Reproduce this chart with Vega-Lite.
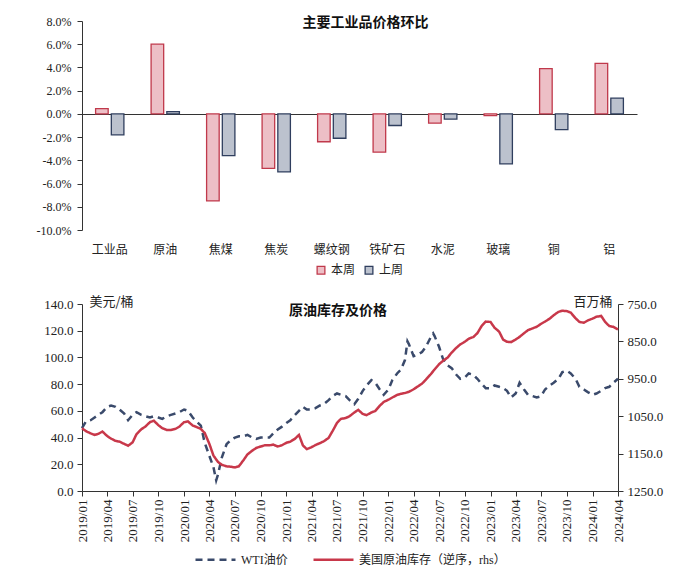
{
  "$schema": "https://vega.github.io/schema/vega-lite/v6.json",
  "background": "white",
  "padding": {"left": 30, "top": 15, "right": 5, "bottom": 5},
  "spacing": 18,
  "config": {
    "view": {"stroke": null},
    "axis": {"grid": false, "domainColor": "#333333", "tickColor": "#333333", "labelColor": "#222222", "titleColor": "#222222", "labelFont": "Liberation Serif, Noto Sans CJK SC", "titleFont": "Noto Sans CJK SC", "labelFontSize": 12},
    "legend": {"labelFont": "Liberation Serif, Noto Sans CJK SC", "labelFontSize": 12, "labelColor": "#222222", "layout": {"bottom": {"anchor": "middle"}}},
    "title": {"font": "Noto Sans CJK SC", "fontSize": 14, "fontWeight": "bold", "color": "#111111"}
  },
  "datasets": {
    "bars": [
      {"item": "工业品", "series": "本周", "value": 0.0045},
      {"item": "工业品", "series": "上周", "value": -0.018},
      {"item": "原油", "series": "本周", "value": 0.06},
      {"item": "原油", "series": "上周", "value": 0.002},
      {"item": "焦煤", "series": "本周", "value": -0.075},
      {"item": "焦煤", "series": "上周", "value": -0.036},
      {"item": "焦炭", "series": "本周", "value": -0.047},
      {"item": "焦炭", "series": "上周", "value": -0.05},
      {"item": "螺纹钢", "series": "本周", "value": -0.024},
      {"item": "螺纹钢", "series": "上周", "value": -0.021},
      {"item": "铁矿石", "series": "本周", "value": -0.033},
      {"item": "铁矿石", "series": "上周", "value": -0.01},
      {"item": "水泥", "series": "本周", "value": -0.008},
      {"item": "水泥", "series": "上周", "value": -0.0045},
      {"item": "玻璃", "series": "本周", "value": -0.0015},
      {"item": "玻璃", "series": "上周", "value": -0.043},
      {"item": "铜", "series": "本周", "value": 0.039},
      {"item": "铜", "series": "上周", "value": -0.0135},
      {"item": "铝", "series": "本周", "value": 0.0435},
      {"item": "铝", "series": "上周", "value": 0.0135}
    ],
    "wti": [
      {"date": "2019-01-01", "v": 47}, {"date": "2019-01-15", "v": 52}, {"date": "2019-02-01", "v": 53}, {"date": "2019-02-15", "v": 55},
      {"date": "2019-03-01", "v": 57}, {"date": "2019-03-15", "v": 59}, {"date": "2019-04-01", "v": 63}, {"date": "2019-04-15", "v": 64},
      {"date": "2019-05-01", "v": 63}, {"date": "2019-05-15", "v": 61}, {"date": "2019-06-01", "v": 58}, {"date": "2019-06-15", "v": 53},
      {"date": "2019-07-01", "v": 57}, {"date": "2019-07-15", "v": 59}, {"date": "2019-08-01", "v": 57}, {"date": "2019-08-15", "v": 56},
      {"date": "2019-09-01", "v": 55}, {"date": "2019-09-15", "v": 56}, {"date": "2019-10-01", "v": 55}, {"date": "2019-10-15", "v": 54},
      {"date": "2019-11-01", "v": 56}, {"date": "2019-11-15", "v": 57}, {"date": "2019-12-01", "v": 58}, {"date": "2019-12-15", "v": 59},
      {"date": "2020-01-01", "v": 61}, {"date": "2020-01-15", "v": 60}, {"date": "2020-02-01", "v": 55}, {"date": "2020-02-15", "v": 52},
      {"date": "2020-03-01", "v": 49}, {"date": "2020-03-15", "v": 36}, {"date": "2020-04-01", "v": 26}, {"date": "2020-04-15", "v": 18},
      {"date": "2020-04-25", "v": 8}, {"date": "2020-05-01", "v": 12}, {"date": "2020-05-15", "v": 25}, {"date": "2020-06-01", "v": 35},
      {"date": "2020-06-15", "v": 38}, {"date": "2020-07-01", "v": 40}, {"date": "2020-07-15", "v": 41}, {"date": "2020-08-01", "v": 41},
      {"date": "2020-08-15", "v": 42}, {"date": "2020-09-01", "v": 40}, {"date": "2020-09-15", "v": 39}, {"date": "2020-10-01", "v": 40},
      {"date": "2020-10-15", "v": 40}, {"date": "2020-11-01", "v": 40}, {"date": "2020-11-15", "v": 43}, {"date": "2020-12-01", "v": 46},
      {"date": "2020-12-15", "v": 48}, {"date": "2021-01-01", "v": 51}, {"date": "2021-01-15", "v": 53}, {"date": "2021-02-01", "v": 57},
      {"date": "2021-02-15", "v": 60}, {"date": "2021-03-01", "v": 63}, {"date": "2021-03-15", "v": 61}, {"date": "2021-04-01", "v": 61},
      {"date": "2021-04-15", "v": 62}, {"date": "2021-05-01", "v": 64}, {"date": "2021-05-15", "v": 65}, {"date": "2021-06-01", "v": 68},
      {"date": "2021-06-15", "v": 71}, {"date": "2021-07-01", "v": 73}, {"date": "2021-07-15", "v": 72}, {"date": "2021-08-01", "v": 71},
      {"date": "2021-08-15", "v": 68}, {"date": "2021-09-01", "v": 65}, {"date": "2021-09-15", "v": 69}, {"date": "2021-10-01", "v": 75},
      {"date": "2021-10-15", "v": 79}, {"date": "2021-11-01", "v": 83}, {"date": "2021-11-15", "v": 81}, {"date": "2021-12-01", "v": 76},
      {"date": "2021-12-15", "v": 72}, {"date": "2022-01-01", "v": 76}, {"date": "2022-01-15", "v": 83}, {"date": "2022-02-01", "v": 88},
      {"date": "2022-02-15", "v": 91}, {"date": "2022-03-01", "v": 98}, {"date": "2022-03-10", "v": 112}, {"date": "2022-03-15", "v": 110},
      {"date": "2022-04-01", "v": 101}, {"date": "2022-04-15", "v": 102}, {"date": "2022-05-01", "v": 104}, {"date": "2022-05-15", "v": 108},
      {"date": "2022-06-01", "v": 115}, {"date": "2022-06-10", "v": 118}, {"date": "2022-06-15", "v": 116}, {"date": "2022-07-01", "v": 108},
      {"date": "2022-07-15", "v": 99}, {"date": "2022-08-01", "v": 94}, {"date": "2022-08-15", "v": 92}, {"date": "2022-09-01", "v": 87},
      {"date": "2022-09-15", "v": 84}, {"date": "2022-10-01", "v": 85}, {"date": "2022-10-15", "v": 88}, {"date": "2022-11-01", "v": 87},
      {"date": "2022-11-15", "v": 84}, {"date": "2022-12-01", "v": 80}, {"date": "2022-12-15", "v": 77}, {"date": "2023-01-01", "v": 77},
      {"date": "2023-01-15", "v": 79}, {"date": "2023-02-01", "v": 78}, {"date": "2023-02-15", "v": 77}, {"date": "2023-03-01", "v": 75},
      {"date": "2023-03-15", "v": 70}, {"date": "2023-04-01", "v": 73}, {"date": "2023-04-15", "v": 81}, {"date": "2023-05-01", "v": 76},
      {"date": "2023-05-15", "v": 72}, {"date": "2023-06-01", "v": 71}, {"date": "2023-06-15", "v": 70}, {"date": "2023-07-01", "v": 71},
      {"date": "2023-07-15", "v": 76}, {"date": "2023-08-01", "v": 79}, {"date": "2023-08-15", "v": 81}, {"date": "2023-09-01", "v": 84},
      {"date": "2023-09-15", "v": 89}, {"date": "2023-10-01", "v": 90}, {"date": "2023-10-15", "v": 88}, {"date": "2023-11-01", "v": 84},
      {"date": "2023-11-15", "v": 78}, {"date": "2023-12-01", "v": 76}, {"date": "2023-12-15", "v": 74}, {"date": "2024-01-01", "v": 72},
      {"date": "2024-01-15", "v": 73}, {"date": "2024-02-01", "v": 75}, {"date": "2024-02-15", "v": 77}, {"date": "2024-03-01", "v": 78},
      {"date": "2024-03-15", "v": 81}, {"date": "2024-04-01", "v": 84}
    ],
    "inv": [
      {"date": "2019-01-01", "v": 1082}, {"date": "2019-01-15", "v": 1090}, {"date": "2019-02-01", "v": 1096}, {"date": "2019-02-15", "v": 1100},
      {"date": "2019-03-01", "v": 1097}, {"date": "2019-03-15", "v": 1091}, {"date": "2019-04-01", "v": 1103}, {"date": "2019-04-15", "v": 1110},
      {"date": "2019-05-01", "v": 1116}, {"date": "2019-05-15", "v": 1118}, {"date": "2019-06-01", "v": 1124}, {"date": "2019-06-15", "v": 1129},
      {"date": "2019-07-01", "v": 1120}, {"date": "2019-07-15", "v": 1098}, {"date": "2019-08-01", "v": 1085}, {"date": "2019-08-15", "v": 1078},
      {"date": "2019-09-01", "v": 1066}, {"date": "2019-09-15", "v": 1062}, {"date": "2019-10-01", "v": 1074}, {"date": "2019-10-15", "v": 1082},
      {"date": "2019-11-01", "v": 1087}, {"date": "2019-11-15", "v": 1087}, {"date": "2019-12-01", "v": 1084}, {"date": "2019-12-15", "v": 1078},
      {"date": "2020-01-01", "v": 1066}, {"date": "2020-01-15", "v": 1064}, {"date": "2020-02-01", "v": 1075}, {"date": "2020-02-15", "v": 1079},
      {"date": "2020-03-01", "v": 1084}, {"date": "2020-03-15", "v": 1095}, {"date": "2020-04-01", "v": 1125}, {"date": "2020-04-15", "v": 1155},
      {"date": "2020-05-01", "v": 1172}, {"date": "2020-05-15", "v": 1180}, {"date": "2020-06-01", "v": 1184}, {"date": "2020-06-15", "v": 1185},
      {"date": "2020-07-01", "v": 1187}, {"date": "2020-07-15", "v": 1184}, {"date": "2020-08-01", "v": 1167}, {"date": "2020-08-15", "v": 1152},
      {"date": "2020-09-01", "v": 1142}, {"date": "2020-09-15", "v": 1135}, {"date": "2020-10-01", "v": 1131}, {"date": "2020-10-15", "v": 1128},
      {"date": "2020-11-01", "v": 1128}, {"date": "2020-11-15", "v": 1126}, {"date": "2020-12-01", "v": 1131}, {"date": "2020-12-15", "v": 1128},
      {"date": "2021-01-01", "v": 1121}, {"date": "2021-01-15", "v": 1118}, {"date": "2021-02-01", "v": 1110}, {"date": "2021-02-15", "v": 1100},
      {"date": "2021-03-01", "v": 1128}, {"date": "2021-03-15", "v": 1138}, {"date": "2021-04-01", "v": 1133}, {"date": "2021-04-15", "v": 1127},
      {"date": "2021-05-01", "v": 1122}, {"date": "2021-05-15", "v": 1117}, {"date": "2021-06-01", "v": 1108}, {"date": "2021-06-15", "v": 1090},
      {"date": "2021-07-01", "v": 1068}, {"date": "2021-07-15", "v": 1057}, {"date": "2021-08-01", "v": 1055}, {"date": "2021-08-15", "v": 1050},
      {"date": "2021-09-01", "v": 1040}, {"date": "2021-09-15", "v": 1033}, {"date": "2021-10-01", "v": 1044}, {"date": "2021-10-15", "v": 1047},
      {"date": "2021-11-01", "v": 1040}, {"date": "2021-11-15", "v": 1036}, {"date": "2021-12-01", "v": 1022}, {"date": "2021-12-15", "v": 1012},
      {"date": "2022-01-01", "v": 1006}, {"date": "2022-01-15", "v": 1000}, {"date": "2022-02-01", "v": 993}, {"date": "2022-02-15", "v": 990},
      {"date": "2022-03-01", "v": 988}, {"date": "2022-03-15", "v": 985}, {"date": "2022-04-01", "v": 978}, {"date": "2022-04-15", "v": 971},
      {"date": "2022-05-01", "v": 963}, {"date": "2022-05-15", "v": 952}, {"date": "2022-06-01", "v": 938}, {"date": "2022-06-15", "v": 925},
      {"date": "2022-07-01", "v": 911}, {"date": "2022-07-15", "v": 902}, {"date": "2022-08-01", "v": 893}, {"date": "2022-08-15", "v": 880},
      {"date": "2022-09-01", "v": 867}, {"date": "2022-09-15", "v": 858}, {"date": "2022-10-01", "v": 851}, {"date": "2022-10-15", "v": 843},
      {"date": "2022-11-01", "v": 838}, {"date": "2022-11-15", "v": 828}, {"date": "2022-12-01", "v": 808}, {"date": "2022-12-15", "v": 797},
      {"date": "2023-01-01", "v": 798}, {"date": "2023-01-15", "v": 813}, {"date": "2023-02-01", "v": 824}, {"date": "2023-02-15", "v": 845},
      {"date": "2023-03-01", "v": 851}, {"date": "2023-03-15", "v": 852}, {"date": "2023-04-01", "v": 845}, {"date": "2023-04-15", "v": 838},
      {"date": "2023-05-01", "v": 828}, {"date": "2023-05-15", "v": 820}, {"date": "2023-06-01", "v": 815}, {"date": "2023-06-15", "v": 811},
      {"date": "2023-07-01", "v": 803}, {"date": "2023-07-15", "v": 797}, {"date": "2023-08-01", "v": 789}, {"date": "2023-08-15", "v": 780},
      {"date": "2023-09-01", "v": 771}, {"date": "2023-09-15", "v": 768}, {"date": "2023-10-01", "v": 769}, {"date": "2023-10-15", "v": 773},
      {"date": "2023-11-01", "v": 788}, {"date": "2023-11-15", "v": 798}, {"date": "2023-12-01", "v": 800}, {"date": "2023-12-15", "v": 794},
      {"date": "2024-01-01", "v": 789}, {"date": "2024-01-15", "v": 784}, {"date": "2024-02-01", "v": 782}, {"date": "2024-02-15", "v": 798},
      {"date": "2024-03-01", "v": 809}, {"date": "2024-03-15", "v": 811}, {"date": "2024-04-01", "v": 818}
    ]
  },
  "vconcat": [
    {
      "width": 555,
      "height": 209,
      "title": {"text": "主要工业品价格环比", "offset": -15, "dx": 6},
      "data": {"name": "bars"},
      "mark": {"type": "bar", "strokeWidth": 1.3},
      "encoding": {
        "x": {"field": "item", "type": "nominal", "sort": null, "title": null,
              "scale": {"paddingInner": 0.49, "paddingOuter": 0.245},
              "axis": {"labelAngle": 0, "domain": false, "ticks": false, "labelPadding": 14, "labelFontSize": 12}},
        "xOffset": {"field": "series", "sort": ["本周", "上周"], "scale": {"paddingInner": 0.2, "paddingOuter": 0}},
        "y": {"field": "value", "type": "quantitative", "title": null,
              "scale": {"domain": [-0.1, 0.08], "nice": false},
              "axis": {"values": [-0.1, -0.08, -0.06, -0.04, -0.02, 0, 0.02, 0.04, 0.06, 0.08],
                       "labelExpr": "replace(format(datum.value, '.1%'), '−', '-')", "labelOverlap": false,
                       "grid": true, "gridWidth": 1, "gridColor": {"condition": {"test": "abs(datum.value) < 0.0001", "value": "#333333"}, "value": "transparent"},
                       "tickSize": 5, "labelPadding": 6, "minExtent": 52, "maxExtent": 52}},
        "fill": {"field": "series", "type": "nominal",
                 "scale": {"domain": ["本周", "上周"], "range": ["#EDBFC6", "#BCC2CE"]},
                 "legend": {"orient": "bottom", "direction": "horizontal", "title": null, "symbolType": "square", "symbolSize": 60, "symbolStrokeWidth": 1.3, "offset": 9, "columnPadding": 6, "labelFontSize": 12}},
        "stroke": {"field": "series", "type": "nominal",
                   "scale": {"domain": ["本周", "上周"], "range": ["#C0394B", "#2F3E5E"]},
                   "legend": {"orient": "bottom", "direction": "horizontal", "title": null, "symbolType": "square", "symbolSize": 60, "symbolStrokeWidth": 1.3, "offset": 9, "columnPadding": 6, "labelFontSize": 12}}
      }
    },
    {
      "width": 536,
      "height": 187,
      "title": {"text": "原油库存及价格", "offset": -23, "dx": -12},
      "encoding": {
        "x": {"field": "date", "type": "temporal", "title": null,
              "scale": {"type": "utc", "domain": ["2019-01-01", "2024-04-01"]},
              "axis": {"labelExpr": "utcFormat(datum.value, '%Y/%m')", "tickCount": {"interval": "month", "step": 3}, "labelAngle": 270, "tickSize": 5, "labelPadding": 3, "labelFontSize": 13, "labelOverlap": false}}
      },
      "layer": [
        {
          "data": {"name": "wti"},
          "mark": {"type": "line", "strokeWidth": 2.5, "strokeDash": [7, 5]},
          "encoding": {
            "y": {"field": "v", "type": "quantitative",
                  "scale": {"domain": [0, 140], "nice": false},
                  "axis": {"orient": "left", "values": [0, 20, 40, 60, 80, 100, 120, 140], "format": ".1f", "labelFontSize": 13, "tickSize": 5, "labelPadding": 4, "minExtent": 52, "maxExtent": 52,
                           "title": "美元/桶", "titleAngle": 0, "titleAlign": "left", "titleBaseline": "middle", "titleX": 7, "titleY": -3, "titleFontWeight": "normal", "titleFontSize": 13}},
            "color": {"datum": "WTI油价", "type": "nominal",
                      "scale": {"domain": ["WTI油价", "美国原油库存（逆序，rhs）"], "range": ["#3A4A6B", "#C8384A"]},
                      "legend": {"orient": "bottom", "direction": "horizontal", "title": null, "symbolType": "stroke", "symbolSize": 1600, "symbolStrokeWidth": 2.5, "columnPadding": 20, "labelFontSize": 12, "offset": -4}},
            "strokeDash": {"datum": "WTI油价", "type": "nominal",
                           "scale": {"domain": ["WTI油价", "美国原油库存（逆序，rhs）"], "range": [[7, 5], [1, 0]]},
                           "legend": {"orient": "bottom", "direction": "horizontal", "title": null, "symbolType": "stroke", "symbolSize": 1600, "symbolStrokeWidth": 2.5, "columnPadding": 20, "labelFontSize": 12, "offset": -4}}
          }
        },
        {
          "data": {"name": "inv"},
          "mark": {"type": "line", "strokeWidth": 2.5},
          "encoding": {
            "y": {"field": "v", "type": "quantitative",
                  "scale": {"domain": [750, 1250], "nice": false, "zero": false, "reverse": true},
                  "axis": {"orient": "right", "values": [750, 850, 950, 1050, 1150, 1250], "format": ".1f", "labelFontSize": 13, "tickSize": 5, "labelPadding": 4,
                           "title": "百万桶", "titleAngle": 0, "titleAlign": "right", "titleBaseline": "middle", "titleX": -6, "titleY": -3, "titleFontWeight": "normal", "titleFontSize": 13}},
            "color": {"datum": "美国原油库存（逆序，rhs）", "type": "nominal"},
            "strokeDash": {"datum": "美国原油库存（逆序，rhs）", "type": "nominal"}
          }
        }
      ],
      "resolve": {"scale": {"y": "independent"}}
    }
  ],
  "resolve": {"scale": {"color": "independent", "strokeDash": "independent", "fill": "independent", "stroke": "independent"}, "legend": {"color": "independent", "strokeDash": "independent", "fill": "independent", "stroke": "independent"}}
}
